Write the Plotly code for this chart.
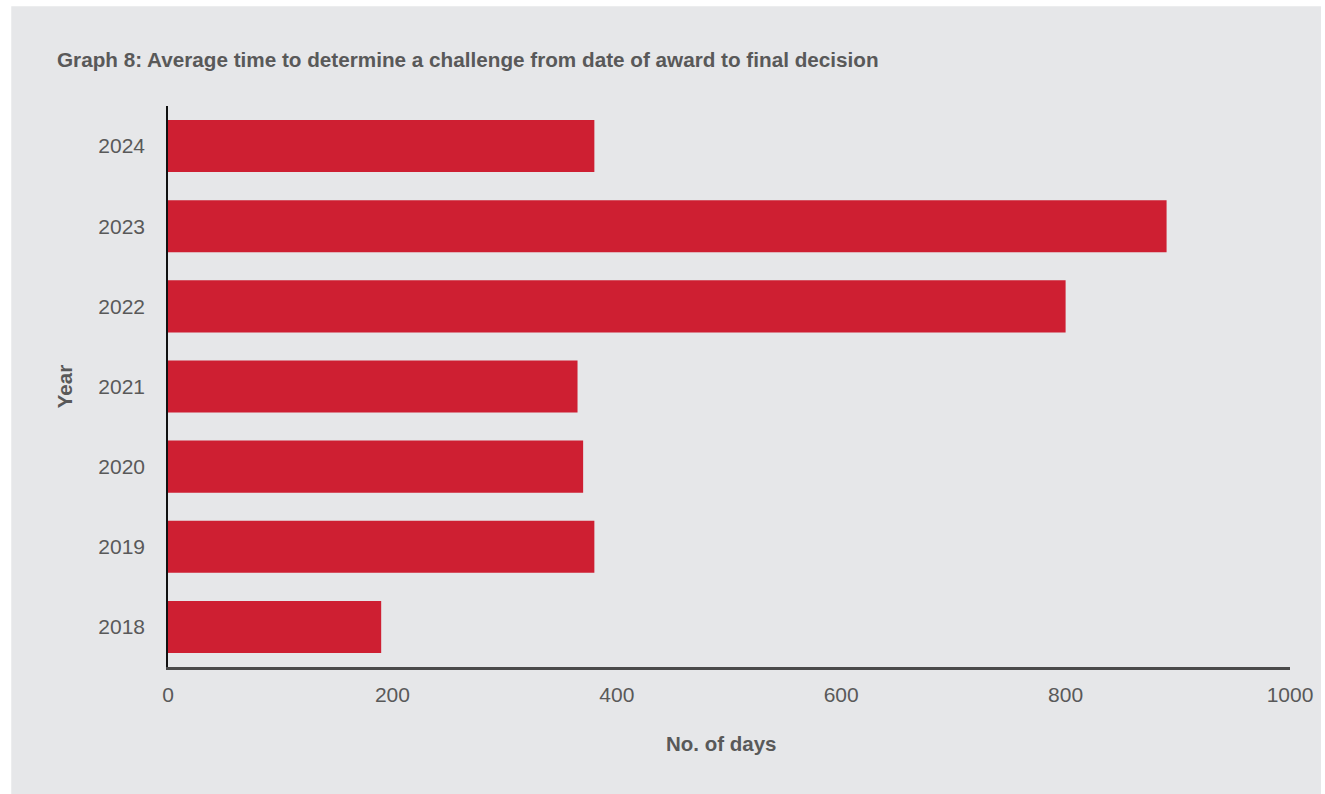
import plotly.graph_objects as go

# values
years = ["2018", "2019", "2020", "2021", "2022", "2023", "2024"]
avg_days = [190, 380, 370, 365, 800, 890, 380]
x_ticks = [0, 200, 400, 600, 800, 1000]

title_text = "Graph 8: Average time to determine a challenge from date of award to final decision"
bar_colour = "#CE1F32"
text_colour = "#595959"
panel_colour = "#E6E7E9"

fig = go.Figure()

fig.add_trace(go.Bar(
    x=avg_days,
    y=years,
    orientation="h",
    marker=dict(color=bar_colour, line=dict(width=0)),
    hovertemplate="%{y}: %{x} days<extra></extra>",
))

# grey panel behind the whole chart, leaving a thin white edge like the original
fig.add_shape(type="rect", xref="paper", yref="paper",
              x0=-0.1397, x1=1.0276, y0=-0.23, y1=1.178,
              fillcolor=panel_colour, line=dict(width=0), layer="below")

# x axis title sits a little left of the plot centre in the original
fig.add_annotation(text="<b>No. of days</b>", xref="paper", yref="paper",
                   x=0.493, y=-0.137, xanchor="center", yanchor="middle",
                   showarrow=False, font=dict(size=20.5, color=text_colour))

fig.update_layout(
    width=1325, height=794,
    margin=dict(l=168, r=30, t=106, b=127),
    paper_bgcolor="white",
    plot_bgcolor="rgba(0,0,0,0)",
    bargap=0.35,
    showlegend=False,
    font=dict(family="Liberation Sans, Arial, sans-serif", color=text_colour, size=21),
    title=dict(text=f"<b>{title_text}</b>", x=57 / 1325, xanchor="left",
               y=1 - 60 / 794, yanchor="middle",
               font=dict(size=20.7, color=text_colour)),
    xaxis=dict(
        range=[0, 1000], tickvals=x_ticks, showgrid=False, zeroline=False,
        showline=True, linecolor="#4A4A4A", linewidth=2.5,
        ticks="", ticklabelstandoff=7,
        tickfont=dict(size=21, color=text_colour),
    ),
    yaxis=dict(
        range=[-0.5, 6.5], showgrid=False, zeroline=False,
        showline=True, linecolor="#111111", linewidth=1.5,
        ticks="", ticklabelstandoff=17,
        tickfont=dict(size=21, color=text_colour),
        title=dict(text="<b>Year</b>", standoff=20, font=dict(size=20.5, color=text_colour)),
    ),
)

# drop the browser's default body margin so the figure sits at the page origin
fig.write_html("out.html", config={"displayModeBar": False},
               post_script="document.body.style.margin='0';")
